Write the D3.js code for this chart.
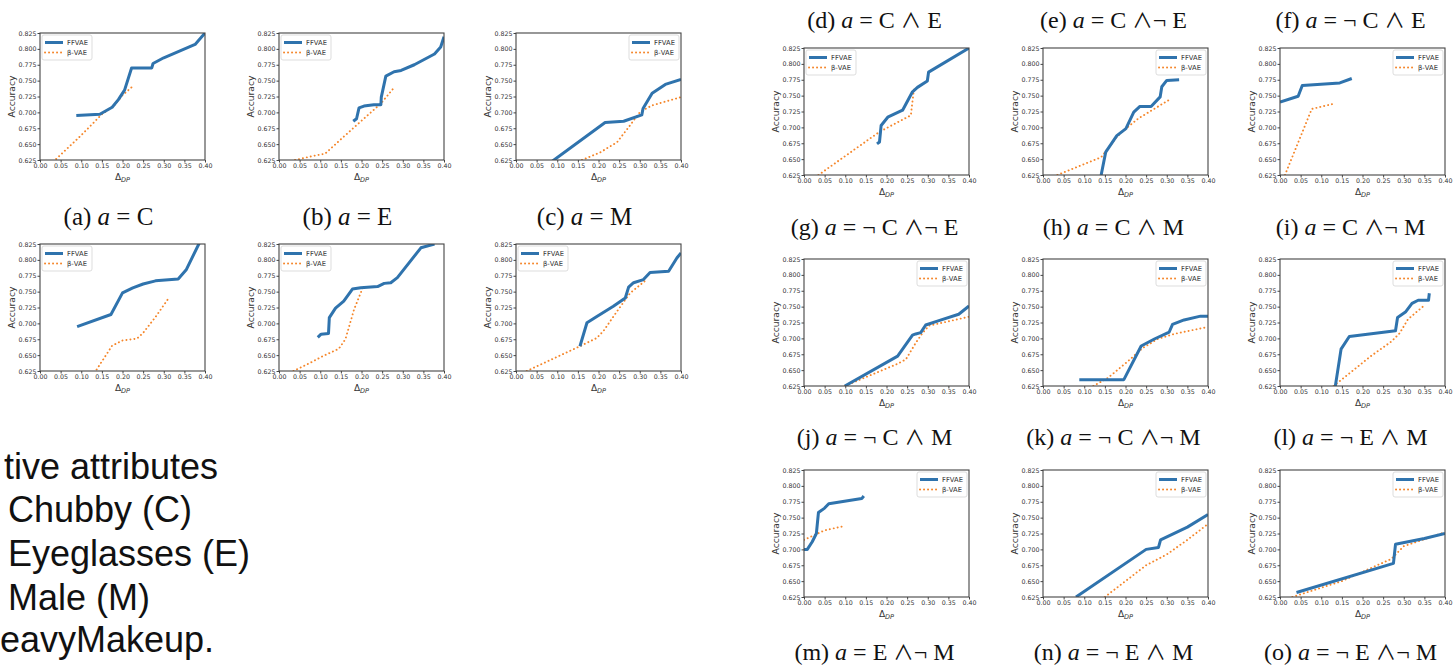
<!DOCTYPE html>
<html>
<head>
<meta charset="utf-8">
<script src="https://cdn.jsdelivr.net/npm/d3@7"></script>
<style>
body { margin: 0; background: #fff; }
svg { display: block; }
</style>
</head>
<body>
<script>
// tick values shared by every panel
var xTicks = [0, 0.05, 0.10, 0.15, 0.20, 0.25, 0.30, 0.35, 0.40];
var yTicks = [0.625, 0.650, 0.675, 0.700, 0.725, 0.750, 0.775, 0.800, 0.825];
var seriesNames = ["FFVAE", "\u03b2-VAE"];

// left block, first row  [dp, accuracy]
var ffvaeA = [[0.088,0.695],[0.145,0.697],[0.175,0.708],[0.19,0.72],[0.205,0.735],[0.222,0.770],[0.271,0.770],[0.274,0.777],[0.30,0.786],[0.376,0.807],[0.40,0.825]];
var betaA = [[0.025,0.618],[0.10,0.664],[0.15,0.697],[0.18,0.711],[0.20,0.727],[0.223,0.740]];
var ffvaeB = [[0.180,0.686],[0.188,0.690],[0.194,0.707],[0.206,0.710],[0.230,0.712],[0.247,0.712],[0.248,0.724],[0.259,0.757],[0.279,0.764],[0.296,0.766],[0.328,0.775],[0.377,0.792],[0.392,0.803],[0.40,0.819]];
var betaB = [[0.039,0.625],[0.080,0.631],[0.112,0.635],[0.149,0.657],[0.190,0.681],[0.247,0.714],[0.279,0.739]];
var ffvaeC = [[0.085,0.6217],[0.216,0.684],[0.261,0.686],[0.305,0.696],[0.308,0.706],[0.330,0.730],[0.362,0.744],[0.40,0.752]];
var betaC = [[0.160,0.625],[0.204,0.637],[0.245,0.653],[0.277,0.680],[0.301,0.701],[0.330,0.711],[0.40,0.724]];

// left block, second row
var ffvaeA2 = [[0.09,0.695],[0.172,0.714],[0.20,0.748],[0.225,0.756],[0.25,0.762],[0.28,0.767],[0.335,0.770],[0.355,0.785],[0.385,0.825],[0.40,0.845]];
var betaA2 = [[0.132,0.622],[0.175,0.665],[0.20,0.673],[0.235,0.676],[0.25,0.685],[0.28,0.710],[0.31,0.738]];
var ffvaeB2 = [[0.094,0.678],[0.102,0.683],[0.120,0.684],[0.122,0.709],[0.137,0.724],[0.157,0.735],[0.178,0.754],[0.198,0.756],[0.239,0.758],[0.255,0.763],[0.271,0.764],[0.287,0.772],[0.344,0.819],[0.377,0.825]];
var betaB2 = [[0.035,0.625],[0.076,0.638],[0.108,0.649],[0.145,0.660],[0.161,0.675],[0.182,0.722],[0.206,0.761]];
var ffvaeC2 = [[0.155,0.664],[0.172,0.701],[0.196,0.711],[0.236,0.727],[0.265,0.740],[0.273,0.757],[0.285,0.764],[0.309,0.769],[0.325,0.780],[0.370,0.782],[0.390,0.803],[0.40,0.811]];
var betaC2 = [[0.026,0.625],[0.155,0.664],[0.196,0.677],[0.212,0.688],[0.245,0.719],[0.277,0.748],[0.317,0.769]];

// right block
var ffvaeD = [[0.177,0.674],[0.183,0.677],[0.187,0.703],[0.203,0.716],[0.239,0.727],[0.263,0.756],[0.275,0.763],[0.299,0.773],[0.302,0.787],[0.40,0.825]];
var betaD = [[0.035,0.625],[0.183,0.693],[0.259,0.719],[0.267,0.763]];
var ffvaeE = [[0.141,0.625],[0.152,0.661],[0.179,0.687],[0.201,0.698],[0.220,0.724],[0.235,0.733],[0.262,0.733],[0.284,0.748],[0.288,0.764],[0.300,0.774],[0.33,0.775]];
var betaE = [[0.035,0.625],[0.141,0.653],[0.179,0.685],[0.201,0.698],[0.231,0.714],[0.31,0.745]];
var ffvaeF = [[0.0,0.740],[0.044,0.749],[0.054,0.766],[0.145,0.770],[0.174,0.777]];
var betaF = [[0.012,0.625],[0.077,0.729],[0.129,0.737]];
var ffvaeG = [[0.099,0.625],[0.227,0.672],[0.263,0.705],[0.271,0.707],[0.283,0.709],[0.295,0.721],[0.327,0.728],[0.375,0.738],[0.40,0.751]];
var betaG = [[0.099,0.625],[0.227,0.660],[0.247,0.667],[0.271,0.693],[0.287,0.708],[0.303,0.720],[0.40,0.734]];
var ffvaeH = [[0.088,0.635],[0.196,0.635],[0.238,0.688],[0.270,0.699],[0.306,0.710],[0.314,0.722],[0.342,0.729],[0.382,0.735],[0.40,0.735]];
var betaH = [[0.122,0.625],[0.158,0.638],[0.206,0.664],[0.242,0.685],[0.278,0.699],[0.318,0.707],[0.40,0.718]];
var ffvaeI = [[0.133,0.620],[0.148,0.683],[0.168,0.703],[0.28,0.712],[0.285,0.733],[0.305,0.742],[0.32,0.755],[0.335,0.760],[0.36,0.760],[0.362,0.771]];
var betaI = [[0.13,0.625],[0.22,0.672],[0.27,0.695],[0.29,0.708],[0.31,0.730],[0.35,0.752]];
var ffvaeJ = [[0.0,0.700],[0.008,0.700],[0.02,0.712],[0.03,0.725],[0.035,0.758],[0.05,0.765],[0.06,0.772],[0.14,0.780],[0.145,0.784]];
var betaJ = [[0.0,0.715],[0.05,0.730],[0.10,0.737]];
var ffvaeK = [[0.08,0.625],[0.25,0.700],[0.28,0.703],[0.285,0.715],[0.35,0.735],[0.40,0.755]];
var betaK = [[0.15,0.625],[0.20,0.650],[0.25,0.675],[0.30,0.692],[0.35,0.715],[0.40,0.740]];
var ffvaeL = [[0.04,0.632],[0.275,0.678],[0.28,0.708],[0.35,0.717],[0.40,0.725]];
var betaL = [[0.03,0.625],[0.15,0.650],[0.27,0.685],[0.30,0.705],[0.40,0.727]];

// captions: [letter, attribute expression]
var leftCaptions = [["a","C"],["b","E"],["c","M"]];
var rightCaptions = [["d","C \u2227 E"],["e","C \u2227\u00ac E"],["f","\u00ac C \u2227 E"],
                     ["g","\u00ac C \u2227\u00ac E"],["h","C \u2227 M"],["i","C \u2227\u00ac M"],
                     ["j","\u00ac C \u2227 M"],["k","\u00ac C \u2227\u00ac M"],["l","\u00ac E \u2227 M"],
                     ["m","E \u2227\u00ac M"],["n","\u00ac E \u2227 M"],["o","\u00ac E \u2227\u00ac M"]];
var sideText = ["tive attributes", "Chubby (C)", "Eyeglasses (E)", "Male (M)", "eavyMakeup."];

var blue = "#2f73ad", orange = "#f5862a";

var svg = d3.select("body").append("svg")
  .attr("width", 1454)
  .attr("height", 666);

// layout
var leftCols = [40, 279, 516], leftRows = [33, 244];
var rightCols = [804, 1043, 1280], rightRows = [48, 259, 470];
var lw = 165, rw = 165, plotH = 127;

var panels = [
  {x: leftCols[0], y: leftRows[0], w: lw, ff: ffvaeA, bv: betaA, leg: "left"},
  {x: leftCols[1], y: leftRows[0], w: lw, ff: ffvaeB, bv: betaB, leg: "left"},
  {x: leftCols[2], y: leftRows[0], w: lw, ff: ffvaeC, bv: betaC, leg: "right"},
  {x: leftCols[0], y: leftRows[1], w: lw, ff: ffvaeA2, bv: betaA2, leg: "left"},
  {x: leftCols[1], y: leftRows[1], w: lw, ff: ffvaeB2, bv: betaB2, leg: "left"},
  {x: leftCols[2], y: leftRows[1], w: lw, ff: ffvaeC2, bv: betaC2, leg: "left"},
  {x: rightCols[0], y: rightRows[0], w: rw, ff: ffvaeD, bv: betaD, leg: "left"},
  {x: rightCols[1], y: rightRows[0], w: rw, ff: ffvaeE, bv: betaE, leg: "right"},
  {x: rightCols[2], y: rightRows[0], w: rw, ff: ffvaeF, bv: betaF, leg: "right"},
  {x: rightCols[0], y: rightRows[1], w: rw, ff: ffvaeG, bv: betaG, leg: "right"},
  {x: rightCols[1], y: rightRows[1], w: rw, ff: ffvaeH, bv: betaH, leg: "right"},
  {x: rightCols[2], y: rightRows[1], w: rw, ff: ffvaeI, bv: betaI, leg: "right"},
  {x: rightCols[0], y: rightRows[2], w: rw, ff: ffvaeJ, bv: betaJ, leg: "right"},
  {x: rightCols[1], y: rightRows[2], w: rw, ff: ffvaeK, bv: betaK, leg: "right"},
  {x: rightCols[2], y: rightRows[2], w: rw, ff: ffvaeL, bv: betaL, leg: "right"}
];

panels.forEach(function(p, i) {
  var g = svg.append("g").attr("transform", `translate(${p.x}, ${p.y})`);

  var x = d3.scaleLinear().domain([0, 0.4]).range([0, p.w]);
  var y = d3.scaleLinear().domain([0.625, 0.825]).range([plotH, 0]);

  g.append("clipPath").attr("id", "clip" + i)
    .append("rect").attr("width", p.w).attr("height", plotH);

  var line = d3.line().x(d => x(d[0])).y(d => y(d[1]));

  var plot = g.append("g").attr("clip-path", `url(#clip${i})`);
  plot.append("path")
    .attr("d", line(p.bv))
    .attr("fill", "none")
    .attr("stroke", orange)
    .attr("stroke-width", 1.9)
    .attr("stroke-linecap", "round")
    .attr("stroke-dasharray", "0.1 3.9");
  plot.append("path")
    .attr("d", line(p.ff))
    .attr("fill", "none")
    .attr("stroke", blue)
    .attr("stroke-width", 3)
    .attr("stroke-linejoin", "round");

  // axes
  var xAxis = g.append("g").attr("transform", `translate(0, ${plotH})`)
    .call(d3.axisBottom(x).tickValues(xTicks).tickFormat(d3.format(".2f")).tickSize(2.5).tickPadding(1));
  var yAxis = g.append("g")
    .call(d3.axisLeft(y).tickValues(yTicks).tickFormat(d3.format(".3f")).tickSize(2.5).tickPadding(1));
  [xAxis, yAxis].forEach(function(a) {
    a.select(".domain").remove();
    a.selectAll("line").attr("stroke", "#444");
    a.selectAll("text").attr("font-family", "DejaVu Sans").attr("font-size", "6.3px").attr("fill", "#333");
  });

  g.append("rect")
    .attr("width", p.w).attr("height", plotH)
    .attr("fill", "none").attr("stroke", "#444").attr("stroke-width", 1.1);

  // axis labels
  g.append("text")
    .attr("transform", `translate(-28, ${plotH / 2}) rotate(-90)`)
    .attr("text-anchor", "middle")
    .attr("dy", "0.35em")
    .attr("font-family", "DejaVu Sans")
    .attr("font-size", "9.2px")
    .attr("fill", "#333")
    .text("Accuracy");
  var xl = g.append("text")
    .attr("x", p.w / 2).attr("y", plotH + 20)
    .attr("text-anchor", "middle")
    .attr("font-family", "DejaVu Sans")
    .attr("font-size", "9px")
    .attr("fill", "#333");
  xl.append("tspan").text("\u0394");
  xl.append("tspan").attr("font-size", "6.5px").attr("font-style", "italic").attr("dy", 2).text("DP");

  // legend
  var lx = p.leg === "left" ? 2 : p.w - 52;
  var lg = g.append("g").attr("transform", `translate(${lx}, 2)`);
  lg.append("rect")
    .attr("width", 50).attr("height", 25).attr("rx", 2)
    .attr("fill", "#fff").attr("fill-opacity", 0.8)
    .attr("stroke", "#d4d4d4").attr("stroke-width", 0.8);
  seriesNames.forEach(function(name, k) {
    var ly = 7.5 + k * 10;
    lg.append("line")
      .attr("x1", 3).attr("x2", 21).attr("y1", ly).attr("y2", ly)
      .attr("stroke", k === 0 ? blue : orange)
      .attr("stroke-width", k === 0 ? 3 : 1.9)
      .attr("stroke-linecap", k === 0 ? "butt" : "round")
      .attr("stroke-dasharray", k === 0 ? null : "0.1 3.9");
    lg.append("text")
      .attr("x", 25).attr("y", ly).attr("dy", "0.35em")
      .attr("font-family", "DejaVu Sans").attr("font-size", "6.8px").attr("fill", "#333")
      .text(name);
  });
});

// captions; the wedge comes from a CJK face so it stays thin like the original
function caption(cx, by, size, id, expr) {
  var t = svg.append("text")
    .attr("x", cx).attr("y", by)
    .attr("text-anchor", "middle")
    .attr("font-family", "Liberation Serif, DejaVu Serif, serif")
    .attr("font-size", size + "px")
    .attr("fill", "#111");
  t.append("tspan").text("(" + id + ") ");
  t.append("tspan").attr("font-style", "italic").text("a");
  t.append("tspan").text(" = ");
  expr.split(/(\u2227)/).forEach(function(part) {
    if (part === "\u2227") {
      t.append("tspan")
        .attr("font-family", "Noto Sans CJK JP")
        .attr("font-size", (size * 0.85) + "px")
        .text(part);
    } else if (part) {
      t.append("tspan").text(part);
    }
  });
}

leftCaptions.forEach(function(c, i) {
  caption(leftCols[i] + lw / 2 - 14, 225, 25, c[0], c[1]);
});
var rightTitleBase = [28, 235, 445, 660];
rightCaptions.forEach(function(c, i) {
  var col = i % 3, row = Math.floor(i / 3);
  caption(rightCols[col] + rw / 2 - 12, rightTitleBase[row], 24, c[0], c[1]);
});

// side text in the lower left
var sideX = [4, 8, 8, 8, 0], sideY = [479, 522, 566, 610, 652];
sideText.forEach(function(s, i) {
  svg.append("text")
    .attr("x", sideX[i]).attr("y", sideY[i])
    .attr("font-family", "Liberation Sans, Arial, sans-serif")
    .attr("font-size", "36px")
    .attr("fill", "#111")
    .text(s);
});
</script>
</body>
</html>
